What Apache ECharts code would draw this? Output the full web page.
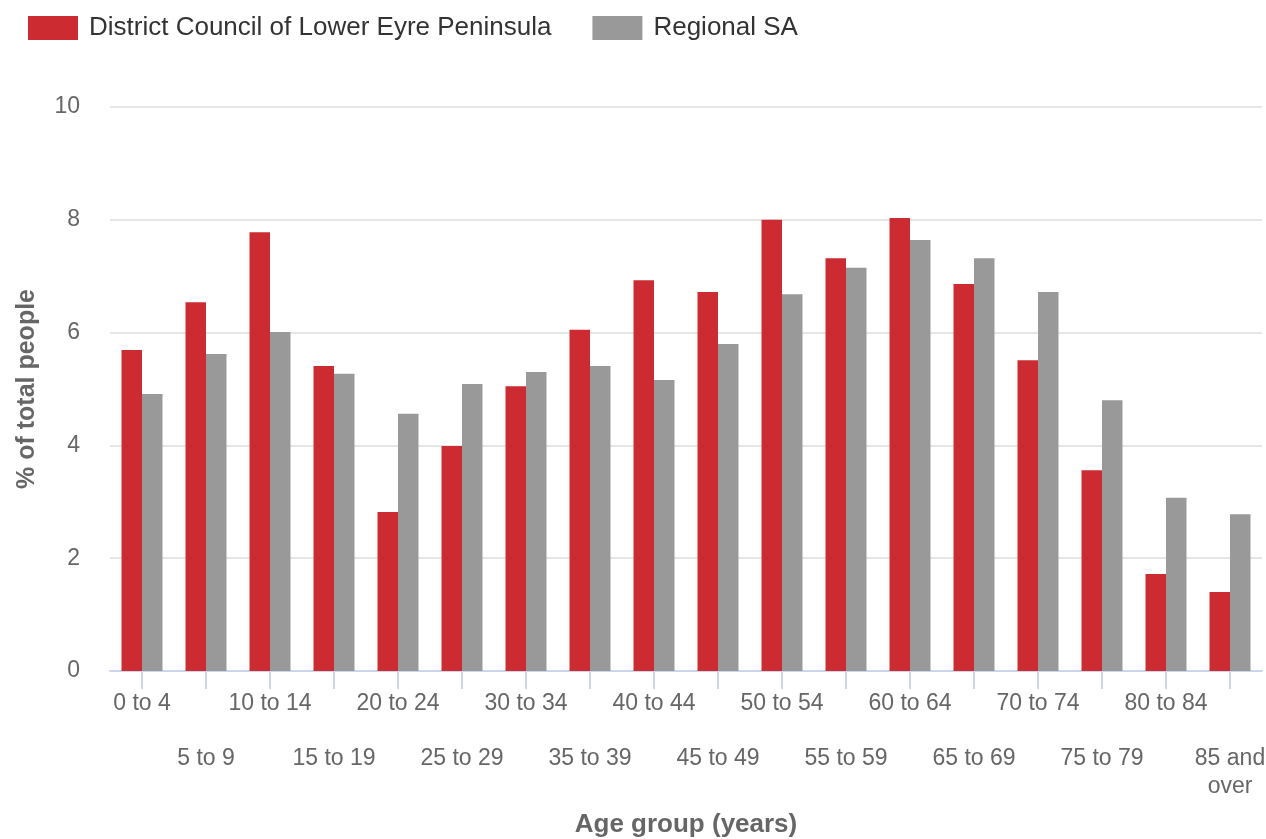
<!DOCTYPE html>
<html>
<head>
<meta charset="utf-8">
<script src="https://cdn.jsdelivr.net/npm/echarts@6/dist/echarts.min.js"></script>
<style>
  html, body { margin: 0; padding: 0; background: #fff; }
  #chart { width: 1266px; height: 839px; }
</style>
</head>
<body>
<div id="chart"></div>
<script>
const ageGroups = ['0 to 4', '5 to 9', '10 to 14', '15 to 19', '20 to 24', '25 to 29', '30 to 34', '35 to 39',
  '40 to 44', '45 to 49', '50 to 54', '55 to 59', '60 to 64', '65 to 69', '70 to 74', '75 to 79', '80 to 84', '85 and\nover'];
const lowerEyre = [5.69, 6.54, 7.78, 5.41, 2.82, 3.99, 5.05, 6.05, 6.93, 6.72, 8.0, 7.32, 8.03, 6.86, 5.51, 3.56, 1.72, 1.40];
const regionalSA = [4.91, 5.62, 6.01, 5.27, 4.56, 5.09, 5.30, 5.41, 5.16, 5.80, 6.68, 7.15, 7.64, 7.32, 6.72, 4.80, 3.07, 2.78];
const yTicks = [0, 2, 4, 6, 8, 10];

const chart = echarts.init(document.getElementById('chart'));
const font = '"Liberation Sans", Arial, sans-serif';
const option = {
  animation: false,
  textStyle: { fontFamily: font },
  legend: {
    left: 23,
    top: 10,
    itemWidth: 50,
    itemHeight: 24,
    itemGap: 41,
    icon: 'rect',
    textStyle: { fontSize: 26, color: '#333', fontFamily: font, padding: [0, 0, 0, 6] },
    data: ['District Council of Lower Eyre Peninsula', 'Regional SA']
  },
  grid: { left: 110, right: 4, top: 107, bottom: 168, containLabel: false, outerBoundsMode: 'none' },
  xAxis: {
    type: 'category',
    data: ageGroups,
    name: 'Age group (years)',
    nameLocation: 'middle',
    nameGap: 141,
    nameTextStyle: { fontSize: 26, fontWeight: 'bold', color: '#666', fontFamily: font },
    axisLine: { lineStyle: { color: '#ccd6eb', width: 2 } },
    axisTick: { show: true, alignWithLabel: true, length: 18, lineStyle: { color: '#ccd6eb', width: 2 } },
    axisLabel: {
      interval: 0,
      margin: 19,
      fontSize: 23,
      lineHeight: 27.5,
      color: '#666',
      fontFamily: font,
      formatter: (v, i) => (i % 2 ? '\n\n' + v : v)
    }
  },
  yAxis: {
    type: 'value',
    min: yTicks[0],
    max: yTicks[yTicks.length - 1],
    interval: 2,
    name: '% of total people',
    nameLocation: 'middle',
    nameGap: 70,
    nameTextStyle: { fontSize: 25, fontWeight: 'bold', color: '#666', fontFamily: font },
    axisLabel: { fontSize: 23, color: '#666', margin: 30, fontFamily: font },
    axisLine: { show: false },
    axisTick: { show: false },
    splitLine: { lineStyle: { color: '#e6e6e6', width: 2 } }
  },
  series: [
    {
      name: 'District Council of Lower Eyre Peninsula',
      type: 'bar',
      data: lowerEyre,
      barWidth: 20.5,
      barGap: '0%',
      itemStyle: { color: '#cc2b31' }
    },
    {
      name: 'Regional SA',
      type: 'bar',
      data: regionalSA,
      barWidth: 20.5,
      barGap: '0%',
      itemStyle: { color: '#999999' }
    }
  ]
};
chart.setOption(option);
</script>
</body>
</html>
